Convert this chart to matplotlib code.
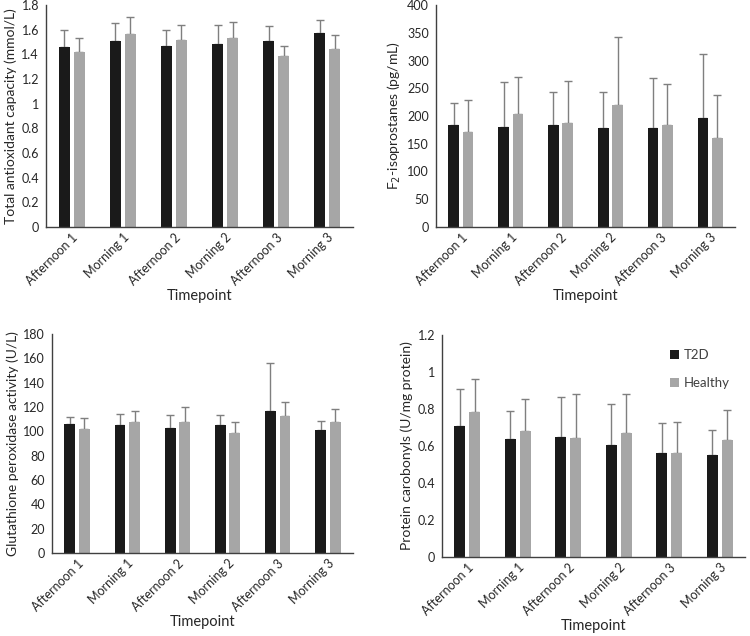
import numpy as np
import matplotlib.pyplot as plt

plt.rcParams['font.family'] = ['Lato', 'DejaVu Sans']

timepoints = ["Afternoon 1", "Morning 1", "Afternoon 2", "Morning 2", "Afternoon 3", "Morning 3"]

# total antioxidant capacity (mmol/L)
tac_t2d = [1.46, 1.505, 1.47, 1.486, 1.505, 1.573]
tac_t2d_sd = [0.135, 0.15, 0.13, 0.15, 0.122, 0.107]
tac_hea = [1.42, 1.567, 1.516, 1.53, 1.39, 1.443]
tac_hea_sd = [0.11, 0.133, 0.124, 0.13, 0.08, 0.111]

# F2-isoprostanes (pg/mL)
iso_t2d = [184, 180, 184, 179, 179, 197]
iso_t2d_sd = [39, 81, 60, 65, 89, 114]
iso_hea = [172, 204, 187, 219, 184, 160]
iso_hea_sd = [57, 66, 76, 123, 74, 78]

# glutathione peroxidase activity (U/L)
gpx_t2d = [106, 105.5, 103, 105, 117, 101]
gpx_t2d_sd = [6, 8.5, 10.5, 8.5, 39.5, 7.5]
gpx_hea = [102, 108, 107.5, 99, 112.5, 108]
gpx_hea_sd = [9, 9, 12.5, 8.5, 12, 10.5]

# protein carbonyls (U/mg protein)
pc_t2d = [0.709, 0.64, 0.651, 0.608, 0.562, 0.553]
pc_t2d_sd = [0.199, 0.147, 0.213, 0.217, 0.16, 0.132]
pc_hea = [0.783, 0.68, 0.642, 0.669, 0.561, 0.631]
pc_hea_sd = [0.177, 0.175, 0.239, 0.212, 0.168, 0.163]

W, H = 750, 636
fig = plt.figure(figsize=(W / 100, H / 100), dpi=100)


def box(l, t, r, b):
    return [l / W, 1 - b / H, (r - l) / W, (b - t) / H]


def panel(rect, t2d, t2d_sd, hea, hea_sd, ymax, ystep, ylabel, legend=False):
    ax = fig.add_axes(box(*rect))
    x = np.arange(len(timepoints))
    off = 0.145
    wd = 0.215
    ax.bar(x - off, t2d, wd, color='#1a1a1a', label='T2D', zorder=2)
    ax.bar(x + off, hea, wd, color='#a6a6a6', label='Healthy', zorder=2)
    ax.errorbar(x - off, t2d, yerr=[np.zeros(6), t2d_sd], fmt='none',
                ecolor='#7f7f7f', elinewidth=1, capsize=3, capthick=1, zorder=1)
    ax.errorbar(x + off, hea, yerr=[np.zeros(6), hea_sd], fmt='none',
                ecolor='#7f7f7f', elinewidth=1, capsize=3, capthick=1, zorder=1)
    ax.set_xlim(-0.5, 5.5)
    ax.set_ylim(0, ymax)
    ticks = np.arange(0, ymax + ystep / 2, ystep)
    ax.set_yticks(ticks)
    ax.set_yticklabels([('%g' % round(t, 2)) for t in ticks])
    ax.set_xticks(x)
    ax.set_xticklabels(timepoints, rotation=45, ha='right', rotation_mode='anchor')
    ax.tick_params(length=0, labelsize=9, colors='#262626', pad=5)
    ax.tick_params(axis='x', pad=3)
    for s in ['top', 'right']:
        ax.spines[s].set_visible(False)
    for s in ['left', 'bottom']:
        ax.spines[s].set_color('#404040')
        ax.spines[s].set_linewidth(1.0)
    ax.set_xlabel('Timepoint', fontsize=10.5, color='#262626', labelpad=1)
    ax.set_ylabel(ylabel, fontsize=10, color='#262626', labelpad=3)
    if legend:
        ax.legend(loc='upper right', frameon=False, fontsize=9.5, labelspacing=1.2,
                  handlelength=0.7, handleheight=0.7, handletextpad=0.4,
                  bbox_to_anchor=(0.99, 0.99), labelcolor='#404040')
    return ax


panel((46, 5, 353, 227), tac_t2d, tac_t2d_sd, tac_hea, tac_hea_sd, 1.8, 0.2,
      'Total antioxidant capacity (mmol/L)')
panel((436, 5, 735, 227), iso_t2d, iso_t2d_sd, iso_hea, iso_hea_sd, 400, 50,
      r'F$_2$-isoprostanes (pg/mL)')
panel((52, 334, 353, 553), gpx_t2d, gpx_t2d_sd, gpx_hea, gpx_hea_sd, 180, 20,
      'Glutathione peroxidase activity (U/L)')
panel((442, 335, 745, 557), pc_t2d, pc_t2d_sd, pc_hea, pc_hea_sd, 1.2, 0.2,
      'Protein carobonyls (U/mg protein)', legend=True)

fig.savefig('out.png', dpi=100, facecolor='w')
